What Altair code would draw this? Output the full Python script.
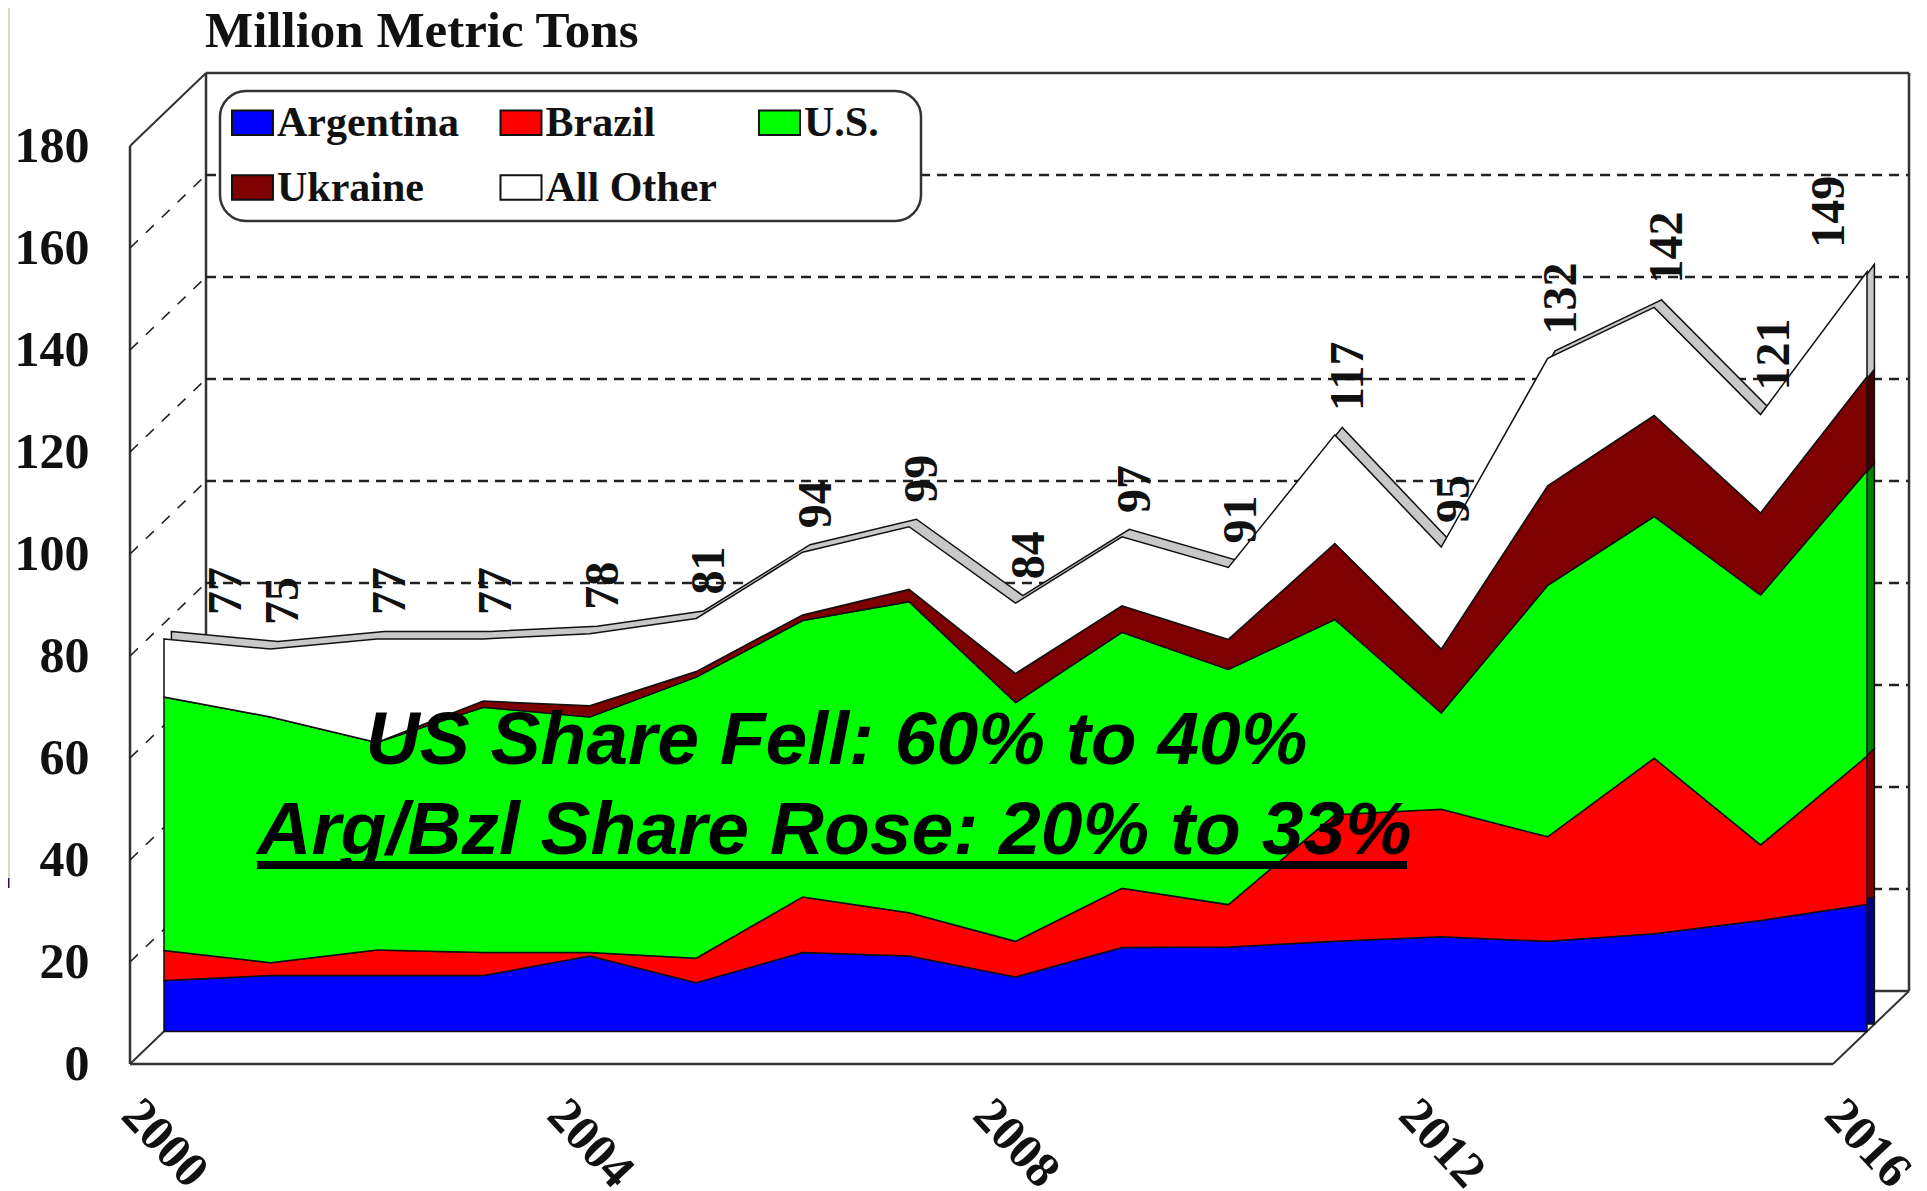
import altair as alt
import pandas as pd

years = list(range(2000, 2017))
argentina = [10, 11, 11, 11, 14.8, 9.6, 15.5, 14.8, 10.7, 16.5, 16.6, 17.7, 18.6, 17.7, 19.2, 21.8, 24.9]
brazil = [5.9, 2.5, 5, 4.5, 0.7, 4.8, 10.9, 8.5, 7, 11.6, 8.3, 24.8, 25, 20.5, 34.4, 14.8, 29.1]
us = [49.7, 48.2, 40.7, 48.1, 46.2, 55.1, 54.2, 61, 46.8, 50.2, 46.1, 38.3, 18.9, 49.3, 47.4, 49, 56]
ukraine = [0, 0, 0, 1.2, 2.2, 1.1, 1.1, 2.4, 5.7, 5.2, 5.9, 14.9, 12.5, 19.5, 19.8, 16.1, 18.4]
all_other = [11.4, 13.3, 20.3, 12.2, 14.1, 10.4, 12.3, 12.3, 13.8, 13.5, 14.1, 21.3, 20, 25, 21.2, 19.3, 20.6]
totals = [77, 75, 77, 77, 78, 81, 94, 99, 84, 97, 91, 117, 95, 132, 142, 121, 149]

names = ["Argentina", "Brazil", "U.S.", "Ukraine", "All Other"]
colors = ["#0000ff", "#ff0000", "#00ff00", "#7f0000", "#ffffff"]
side_colors = ["#000080", "#800000", "#008000", "#400000", "#c8c8c8"]
series = [argentina, brazil, us, ukraine, all_other]
grid_values = [20, 40, 60, 80, 100, 120, 140, 160]
y_ticks = [0, 20, 40, 60, 80, 100, 120, 140, 160, 180]
x_ticks = [2000, 2004, 2008, 2012, 2016]

rows = []
for i, (n, s) in enumerate(zip(names, series)):
    for yr, v in zip(years, s):
        rows.append({"year": yr, "value": v, "name": n, "idx": i, "side": side_colors[i]})
df = pd.DataFrame(rows)
totals_df = pd.DataFrame({"year": years, "total": totals})
grid_df = pd.DataFrame({"v": grid_values})

# page-pixel geometry, relative to the plot origin at (8, 8)
W, H = 1911, 1183
BX, BY = 42, -40.6    # back wall relative to series plane
FX, FY = -34, 32.4    # front edge relative to series plane
SX, SY = 7.4, -7.5    # side extrusion

x_scale = alt.Scale(domain=[2000, 2016], range=[156, 1859])
y_scale = alt.Scale(domain=[0, 180], range=[1023.6, 105.6])
SERIF = "Liberation Serif"
LINE = "#333333"

x_axis = alt.Axis(values=x_ticks, format="d", title=None, domain=False, ticks=False, grid=False,
                  labelFont=SERIF, labelFontSize=50, labelFontWeight="bold", labelColor="#111111",
                  labelAngle=47, labelAlign="center", labelBaseline="middle", labelPadding=0,
                  labelOverlap=False, labelFlush=False, labelBound=False, offset=-48)
y_axis = alt.Axis(values=y_ticks, title=None, domain=False, ticks=False, grid=False,
                  labelFont=SERIF, labelFontSize=50, labelFontWeight="bold", labelColor="#111111",
                  labelOffset=32.4, labelPadding=0, labelOverlap=False, labelBound=False, offset=-81)

X = alt.X("year:Q", scale=x_scale, axis=x_axis)
Y = alt.Y("value:Q", scale=y_scale, axis=y_axis, stack="zero")


def hrule(v_from, v_to, y_val, xo, yo, **kw):
    return alt.Chart(pd.DataFrame({"a": [v_from], "b": [v_to], "c": [y_val]})).mark_rule(
        xOffset=xo, x2Offset=xo, yOffset=yo, **kw
    ).encode(x=alt.X("a:Q", scale=x_scale, axis=x_axis), x2="b:Q", y=alt.Y("c:Q", scale=y_scale, axis=y_axis))


def vrule(x_val, v_from, v_to, xo, yo, **kw):
    return alt.Chart(pd.DataFrame({"a": [x_val], "b": [v_from], "c": [v_to]})).mark_rule(
        xOffset=xo, yOffset=yo, y2Offset=yo, **kw
    ).encode(x=alt.X("a:Q", scale=x_scale, axis=x_axis), y=alt.Y("b:Q", scale=y_scale, axis=y_axis), y2="c:Q")


def diag(x_val, y_val, **kw):
    return alt.Chart(pd.DataFrame({"a": [x_val], "b": [y_val]})).mark_rule(
        xOffset=FX, x2Offset=BX, yOffset=FY, y2Offset=BY, **kw
    ).encode(x=alt.X("a:Q", scale=x_scale, axis=x_axis), x2="a:Q",
             y=alt.Y("b:Q", scale=y_scale, axis=y_axis), y2="b:Q")


back_grid = alt.Chart(grid_df).mark_rule(
    xOffset=BX, x2Offset=BX, yOffset=BY, color="#222222", strokeWidth=2.5, strokeDash=[10, 7]
).encode(x=alt.datum(2000, scale=x_scale, axis=x_axis), x2=alt.datum(2016),
         y=alt.Y("v:Q", scale=y_scale, axis=y_axis))

depth_grid = alt.Chart(grid_df).mark_rule(
    xOffset=FX, x2Offset=BX, yOffset=FY, y2Offset=BY, color="#222222", strokeWidth=1.6, strokeDash=[11, 11]
).encode(x=alt.datum(2000, scale=x_scale, axis=x_axis), x2=alt.datum(2000),
         y=alt.Y("v:Q", scale=y_scale, axis=y_axis), y2="v:Q")

frame = [
    hrule(2000, 2016, 180, BX, BY, color=LINE, strokeWidth=2.5),
    hrule(2000, 2016, 0, BX, BY, color=LINE, strokeWidth=2.5),
    vrule(2000, 0, 180, BX, BY, color=LINE, strokeWidth=2.5),
    vrule(2016, 0, 180, BX, BY, color=LINE, strokeWidth=2.5),
    vrule(2000, 0, 180, FX, FY, color=LINE, strokeWidth=2.5),
    hrule(2000, 2016, 0, FX, FY, color=LINE, strokeWidth=2.5),
    diag(2000, 180, color=LINE, strokeWidth=2),
    diag(2000, 0, color=LINE, strokeWidth=2),
    diag(2016, 0, color=LINE, strokeWidth=2),
]

side = alt.Chart(df).mark_area(
    xOffset=SX, yOffset=SY, y2Offset=SY, stroke="#111111", strokeWidth=1.5
).encode(x=X, y=Y, fill=alt.Fill("side:N", scale=None, legend=None), order=alt.Order("idx:Q"))

legend_box = alt.Chart(pd.DataFrame({"n": [0]})).mark_rect(
    cornerRadius=26, fill="white", stroke=LINE, strokeWidth=2.5
).encode(x=alt.value(212), x2=alt.value(913), y=alt.value(83), y2=alt.value(213))

main = alt.Chart(df).mark_area(stroke="#111111", strokeWidth=1.5).encode(
    x=X, y=Y,
    color=alt.Color(
        "name:N",
        scale=alt.Scale(domain=names, range=colors),
        legend=alt.Legend(
            title=None, orient="none", direction="horizontal", legendX=213, legendY=83, columns=3, zindex=1,
            symbolType="M-1,-0.6H1V0.6H-1Z", symbolSize=1681,
            symbolStrokeColor="#111111", symbolStrokeWidth=2,
            labelFont=SERIF, labelFontSize=42, labelFontWeight="bold", labelColor="#111111",
            labelOffset=3, labelLimit=400, rowPadding=22, columnPadding=37.5, padding=10,
            gridAlign="each",
        ),
    ),
    order=alt.Order("idx:Q"),
)


def value_labels(frame_df, xo):
    return alt.Chart(frame_df).mark_text(
        angle=270, align="left", baseline="middle", xOffset=xo, yOffset=-24,
        font=SERIF, fontSize=48, fontWeight="bold", color="#111111"
    ).encode(x=alt.X("year:Q", scale=x_scale, axis=x_axis),
             y=alt.Y("total:Q", scale=y_scale, axis=y_axis), text="total:Q")


labels = [
    value_labels(totals_df[totals_df.year == 2000], 63),
    value_labels(totals_df[(totals_df.year > 2000) & (totals_df.year < 2016)], 14),
    value_labels(totals_df[totals_df.year == 2016], -37),
]

title = alt.Chart(pd.DataFrame({"t": ["Million Metric Tons"]})).mark_text(
    font=SERIF, fontSize=51, fontWeight="bold", color="#111111", align="left", baseline="alphabetic"
).encode(x=alt.value(197), y=alt.value(39), text="t:N")

note_font = dict(font="Liberation Sans", fontSize=75, fontWeight="bold", fontStyle="italic",
                 color="black", align="center", baseline="alphabetic")
note1 = alt.Chart(pd.DataFrame({"t": ["US Share Fell: 60% to 40%"]})).mark_text(**note_font).encode(
    x=alt.value(828.5), y=alt.value(756), text="t:N")
note2 = alt.Chart(pd.DataFrame({"t": ["Arg/Bzl Share Rose: 20% to 33%"]})).mark_text(**note_font).encode(
    x=alt.value(826.5), y=alt.value(846), text="t:N")
underline = alt.Chart(pd.DataFrame({"n": [0]})).mark_rule(color="black", strokeWidth=8).encode(
    x=alt.value(249), x2=alt.value(1399), y=alt.value(857))

edge = alt.Chart(pd.DataFrame({"n": [0]})).mark_rule(color="#c9cc9a", strokeWidth=1.5).encode(
    x=alt.value(1), y=alt.value(0), y2=alt.value(870))
edge_tick = alt.Chart(pd.DataFrame({"n": [0]})).mark_rule(color="#2a1050", strokeWidth=2).encode(
    x=alt.value(0.5), y=alt.value(870), y2=alt.value(880))

chart = alt.layer(
    edge, edge_tick, *frame, back_grid, depth_grid, legend_box, side, main, *labels, title, note1, note2, underline
).properties(
    width=W, height=H, padding=0, background="white", autosize=alt.AutoSizeParams(type="none"),
).configure_view(strokeWidth=0, stroke="transparent")

chart.save("out.html", embed_options={"renderer": "svg", "actions": False})
